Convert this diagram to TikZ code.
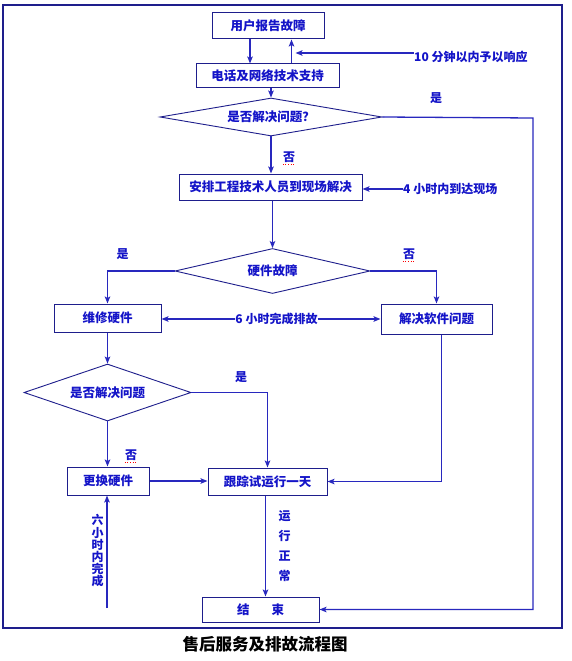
\documentclass[tikz,border=0pt]{standalone}
\usepackage{fontspec}
\setmainfont{Noto Sans CJK SC}
\usetikzlibrary{shapes.geometric,arrows.meta}
\definecolor{tblue}{RGB}{20,20,200}
\definecolor{lblue}{RGB}{40,40,190}
\definecolor{bnavy}{RGB}{30,30,140}
\begin{document}
\begin{tikzpicture}[x=1pt,y=-1pt,
  box/.style={draw=bnavy,line width=1pt,fill=white,inner sep=0pt,text=tblue,font=\fontsize{12.5}{14}\selectfont\bfseries},
  dia/.style={diamond,draw=bnavy,line width=0.9pt,fill=white,inner sep=0pt,text=tblue,font=\fontsize{12.5}{14}\selectfont\bfseries},
  lbl/.style={text=tblue,font=\fontsize{12}{14}\selectfont\bfseries,inner sep=0pt},
  arr/.style={draw=lblue,line width=1.3pt,-{Stealth[length=7pt,width=5.5pt,inset=1.5pt]}},
  ln/.style={draw=lblue,line width=1.3pt},
  squig/.style={draw=red,line width=0.6pt,dotted}]
\useasboundingbox (0,0) rectangle (571,661);
\fill[white] (0,0) rectangle (571,661);
\draw[bnavy,line width=1.2pt] (3,5) rectangle (562,628);

% nodes
\node[box,minimum width=112pt,minimum height=26pt] (b1) at (268,26) {用户报告故障};
\node[box,minimum width=143pt,minimum height=23pt] (b2) at (267.5,75.5) {电话及网络技术支持};
\node[dia,minimum width=222pt,minimum height=38pt,shape aspect=5.8] (d1) at (271,117) {是否解决问题？};
\node[box,minimum width=183pt,minimum height=26pt] (b3) at (270.5,187) {安排工程技术人员到现场解决};
\node[dia,minimum width=195pt,minimum height=45pt,shape aspect=4.3] (d2) at (272.5,271) {硬件故障};
\node[box,minimum width=107pt,minimum height=28pt] (b4) at (107.5,318) {维修硬件};
\node[box,minimum width=111pt,minimum height=30pt] (b5) at (436.5,319) {解决软件问题};
\node[dia,minimum width=167pt,minimum height=57pt,shape aspect=2.9] (d3) at (107.5,392.5) {是否解决问题};
\node[box,minimum width=82pt,minimum height=28pt] (b6) at (108,481) {更换硬件};
\node[box,minimum width=119pt,minimum height=27pt] (b7) at (267.5,481.5) {跟踪试运行一天};
\node[box,minimum width=117pt,minimum height=25pt] (b8) at (260.5,609.5) {结\hspace{22pt}束};

% labels
\node[lbl,anchor=west] (t10) at (414,57) {10 分钟以内予以响应};
\node[lbl,anchor=west] (t4) at (403,189) {4 小时内到达现场};
\node[lbl] (t6) at (276.5,319) {6 小时完成排故};
\node[lbl] (y1) at (436,98) {是};
\node[lbl] (n1) at (289,157) {否};
\node[lbl] (y2) at (122.5,254.5) {是};
\node[lbl] (n2) at (409,254) {否};
\node[lbl] (y3) at (241,377) {是};
\node[lbl] (n3) at (131,455) {否};
\node[lbl,align=center,font=\fontsize{12}{12.2}\selectfont\bfseries] (tv1) at (97.5,551) {六\\小\\时\\内\\完\\成};
\node[lbl,align=center,font=\fontsize{12}{20}\selectfont\bfseries] (tv2) at (284.5,546) {运\\行\\正\\常};
\node[font=\fontsize{16.5}{18}\selectfont\bfseries,text=black,inner sep=0pt] (title) at (265,644) {售后服务及排故流程图};

% spell-check squiggles
\draw[squig] ([yshift=-1.5pt]n1.south west) -- ([yshift=-1.5pt]n1.south east);
\draw[squig] ([yshift=-1.5pt]n2.south west) -- ([yshift=-1.5pt]n2.south east);
\draw[squig] ([yshift=-1.5pt]n3.south west) -- ([yshift=-1.5pt]n3.south east);

% coordinates
\coordinate (dn) at ([xshift=-18pt]b1.south);
\coordinate (up) at ([xshift=24pt]b2.north);
\coordinate (rt) at (533,118);
\coordinate (c6) at (107,608);

% connectors
\draw[arr] (dn) -- (dn |- b2.north);
\draw[arr] (up) -- (up |- b1.south);
\draw[arr,shorten >=4pt] ([yshift=4pt]t10.west) -- ([yshift=4pt]t10.west -| up);
\draw[arr] (d1.north |- b2.south) -- (d1.north);
\draw[arr] (d1.east) -- (rt) |- (b8.east);
\draw[arr] (d1.south) -- (d1.south |- b3.north);
\draw[arr] (t4.west) -- (t4.west -| b3.east);
\draw[arr] (b3.south -| d2.north) -- (d2.north);
\draw[arr] (d2.west) -| (b4.north);
\draw[arr] (d2.east) -| (b5.north);
\draw[arr] (t6.west) -- (t6.west -| b4.east);
\draw[arr] (t6.east) -- (t6.east -| b5.west);
\draw[arr] (b4.south) -- (b4.south |- d3.north);
\draw[arr] (d3.east) -| (b7.north);
\draw[arr] (d3.south) -- (d3.south |- b6.north);
\draw[arr] (b6.east) -- (b6.east -| b7.west);
\draw[arr] ([xshift=5pt]b5.south) |- (b7.east);
\draw[arr] (c6) -- (c6 |- b6.south);
\draw[arr] ([xshift=-2pt]b7.south) -- ([xshift=-2pt]b7.south |- b8.north);
\end{tikzpicture}
\end{document}
